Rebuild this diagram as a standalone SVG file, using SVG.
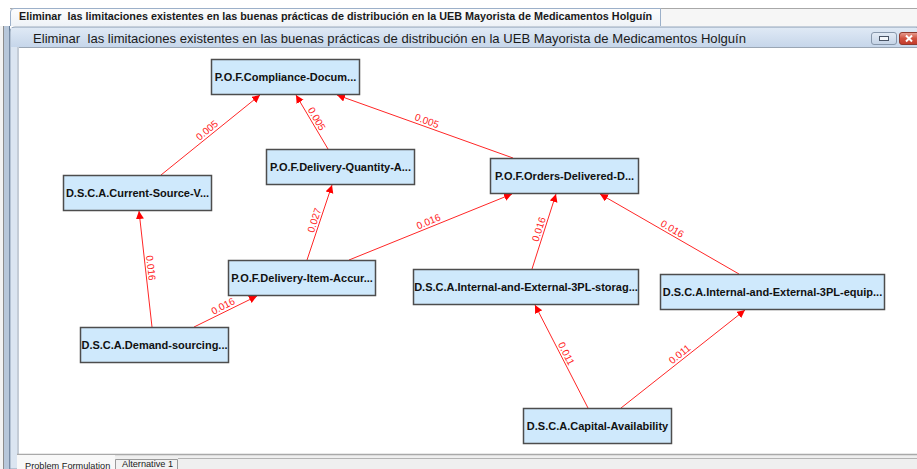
<svg xmlns="http://www.w3.org/2000/svg" width="917" height="469" viewBox="0 0 917 469">
  <defs>
    <style>
      .node rect { fill: #cfe9fc; stroke: #4d4d4d; stroke-width: 1.5; }
      .node text { font-family: "Liberation Sans", Arial, sans-serif; font-weight: bold; font-size: 11px; fill: #111; text-anchor: middle; }
      #connectors line { stroke: #ff2626; stroke-width: 1; fill: none; }
      .lbl { font-family: "Liberation Sans", Arial, sans-serif; font-size: 10px; fill: #ff1a1a; text-anchor: middle; }
      .ui { font-family: "Liberation Sans", Arial, sans-serif; fill: #1a1a1a; white-space: pre; }
    </style>
    <marker id="arrow" markerUnits="userSpaceOnUse" markerWidth="9" markerHeight="9" refX="8" refY="4" orient="auto">
      <path d="M0,0 L8,4 L0,8 Z" fill="#ff0000"/>
    </marker>
    <linearGradient id="titleBar" x1="0" y1="0" x2="0" y2="1">
      <stop offset="0" stop-color="#dfe9f5"/>
      <stop offset="1" stop-color="#c6d6ea"/>
    </linearGradient>
    <linearGradient id="tabFill" x1="0" y1="0" x2="0" y2="1">
      <stop offset="0" stop-color="#fdfdfd"/>
      <stop offset="1" stop-color="#eef2f7"/>
    </linearGradient>
    <linearGradient id="closeBtn" x1="0" y1="0" x2="0" y2="1">
      <stop offset="0" stop-color="#e8a093"/>
      <stop offset="0.5" stop-color="#d0513f"/>
      <stop offset="1" stop-color="#c23a2a"/>
    </linearGradient>
    <linearGradient id="minBtn" x1="0" y1="0" x2="0" y2="1">
      <stop offset="0" stop-color="#e4ecf6"/>
      <stop offset="1" stop-color="#c4d3e6"/>
    </linearGradient>
  </defs>

  <!-- application background -->
  <rect x="0" y="0" width="917" height="469" fill="#ffffff"/>

  <!-- outer document tab strip -->
  <rect x="10" y="8" width="907" height="18" fill="#f6f6f6"/>
  <line x1="10" y1="8.5" x2="917" y2="8.5" stroke="#a8a8a8"/>
  <path d="M10.5,26 L10.5,12 Q10.5,8.5 14,8.5 L660.5,8.5 L660.5,26" fill="url(#tabFill)" stroke="#9cb0c9"/>
  <text class="ui" x="19" y="20" font-size="10.5" font-weight="bold" textLength="633" lengthAdjust="spacingAndGlyphs">Eliminar&#160; las limitaciones existentes en las buenas prácticas de distribución en la UEB Mayorista de Medicamentos Holguín</text>

  <!-- left frame strips -->
  <rect x="0" y="26" width="3" height="443" fill="#f3f3f3"/>
  <rect x="3" y="26" width="1" height="443" fill="#8c8c8c"/>
  <rect x="4" y="26" width="5" height="443" fill="#b7c7da"/>
  <rect x="9" y="26" width="1" height="443" fill="#647b96"/>

  <!-- inner window frame and title bar -->
  <path d="M10,469 L10,32 Q10,27 15,27 L917,27 L917,469 Z" fill="#dbe5f1" stroke="#8d9fb5"/>
  <rect x="11" y="28" width="906" height="19" fill="url(#titleBar)"/>
  <text class="ui" x="33" y="42.5" font-size="13" textLength="713" lengthAdjust="spacingAndGlyphs">Eliminar&#160; las limitaciones existentes en las buenas prácticas de distribución en la UEB Mayorista de Medicamentos Holguín</text>

  <!-- window buttons -->
  <rect x="871.5" y="32.5" width="25" height="12" rx="2.5" fill="url(#minBtn)" stroke="#8797ab"/>
  <rect x="879.5" y="36.5" width="9" height="4" fill="#f4f7fb" stroke="#4a5566"/>
  <rect x="899.5" y="32.5" width="20" height="12" rx="2.5" fill="url(#closeBtn)" stroke="#8e3a2e"/>
  <path d="M906,35.5 L912,41.5 M912,35.5 L906,41.5" stroke="#ffffff" stroke-width="2"/>

  <!-- drawing canvas -->
  <rect x="17" y="47" width="900" height="408" fill="#c4ccd6"/>
  <rect x="19" y="47" width="898" height="407" fill="#ffffff"/>
  <line x1="19" y1="47.5" x2="917" y2="47.5" stroke="#9aa6b4"/>

  <!-- bottom sheet tabs -->
  <rect x="17" y="455" width="900" height="14" fill="#efefef"/>
  <line x1="17" y1="454.5" x2="917" y2="454.5" stroke="#a9a9a9" stroke-width="1.5"/>
  <line x1="178" y1="458.5" x2="917" y2="458.5" stroke="#b4b4b4"/>
  <rect x="17" y="455" width="98" height="14" fill="#f8f8f8"/>
  <text class="ui" x="25" y="468.5" font-size="9.2">Problem Formulation</text>
  <path d="M115.5,469 L115.5,459.5 L177.5,459.5 L177.5,469" fill="#f2f2f2" stroke="#9a9a9a"/>
  <text class="ui" x="122" y="467" font-size="9.2">Alternative 1</text>

  <!-- connectors -->
  <g id="connectors">
    <line x1="161" y1="175" x2="260" y2="95" marker-end="url(#arrow)"/>
    <line x1="328" y1="149" x2="296" y2="95" marker-end="url(#arrow)"/>
    <line x1="513" y1="158" x2="337" y2="95" marker-end="url(#arrow)"/>
    <line x1="307" y1="260" x2="332" y2="185" marker-end="url(#arrow)"/>
    <line x1="349" y1="260" x2="512" y2="194" marker-end="url(#arrow)"/>
    <line x1="152" y1="327" x2="139" y2="211" marker-end="url(#arrow)"/>
    <line x1="194" y1="327" x2="257" y2="296" marker-end="url(#arrow)"/>
    <line x1="532" y1="269" x2="556" y2="194" marker-end="url(#arrow)"/>
    <line x1="739" y1="274" x2="600" y2="194" marker-end="url(#arrow)"/>
    <line x1="588" y1="408" x2="535" y2="305" marker-end="url(#arrow)"/>
    <line x1="621" y1="408" x2="745" y2="310" marker-end="url(#arrow)"/>

    <text class="lbl" transform="translate(210.5,134.5) rotate(-39.3)" y="-2">0.005</text>
    <text class="lbl" transform="translate(312,121.5) rotate(59.8)" y="-2">0.005</text>
    <text class="lbl" transform="translate(425,126) rotate(20)" y="-2">0.005</text>
    <text class="lbl" transform="translate(319.5,222) rotate(-71.8)" y="-2">0.027</text>
    <text class="lbl" transform="translate(430.5,226.5) rotate(-22.3)" y="-2">0.016</text>
    <text class="lbl" transform="translate(145.5,268.5) rotate(83.7)" y="-2">0.016</text>
    <text class="lbl" transform="translate(225.5,311) rotate(-26.9)" y="-2">0.016</text>
    <text class="lbl" transform="translate(544,231) rotate(-72.5)" y="-2">0.016</text>
    <text class="lbl" transform="translate(669.5,233.5) rotate(30.2)" y="-2">0.016</text>
    <text class="lbl" transform="translate(561.5,356) rotate(63)" y="-2">0.011</text>
    <text class="lbl" transform="translate(683,358.5) rotate(-38.6)" y="-2">0.011</text>
  </g>

  <!-- nodes -->
  <g id="node-compliance" class="node">
    <rect x="211.5" y="59.5" width="148" height="35"/>
    <text x="285.5" y="80.5">P.O.F.Compliance-Docum...</text>
  </g>
  <g id="node-current-source" class="node">
    <rect x="63.5" y="175.5" width="148" height="35"/>
    <text x="137.5" y="196.5">D.S.C.A.Current-Source-V...</text>
  </g>
  <g id="node-delivery-quantity" class="node">
    <rect x="266.5" y="149.5" width="148" height="35"/>
    <text x="340.5" y="170.5">P.O.F.Delivery-Quantity-A...</text>
  </g>
  <g id="node-orders-delivered" class="node">
    <rect x="490.5" y="158.5" width="148" height="35"/>
    <text x="564.5" y="179.5">P.O.F.Orders-Delivered-D...</text>
  </g>
  <g id="node-delivery-item" class="node">
    <rect x="228.5" y="260.5" width="147" height="35"/>
    <text x="302" y="281.5">P.O.F.Delivery-Item-Accur...</text>
  </g>
  <g id="node-demand-sourcing" class="node">
    <rect x="80.5" y="327.5" width="148" height="35"/>
    <text x="154.5" y="348.5">D.S.C.A.Demand-sourcing...</text>
  </g>
  <g id="node-storage" class="node">
    <rect x="413.5" y="269.5" width="225" height="35"/>
    <text x="526" y="290.5">D.S.C.A.Internal-and-External-3PL-storag...</text>
  </g>
  <g id="node-equipment" class="node">
    <rect x="660.5" y="274.5" width="224" height="35"/>
    <text x="772.5" y="295.5">D.S.C.A.Internal-and-External-3PL-equip...</text>
  </g>
  <g id="node-capital" class="node">
    <rect x="523.5" y="408.5" width="148" height="35"/>
    <text x="597.5" y="429.5">D.S.C.A.Capital-Availability</text>
  </g>
</svg>
